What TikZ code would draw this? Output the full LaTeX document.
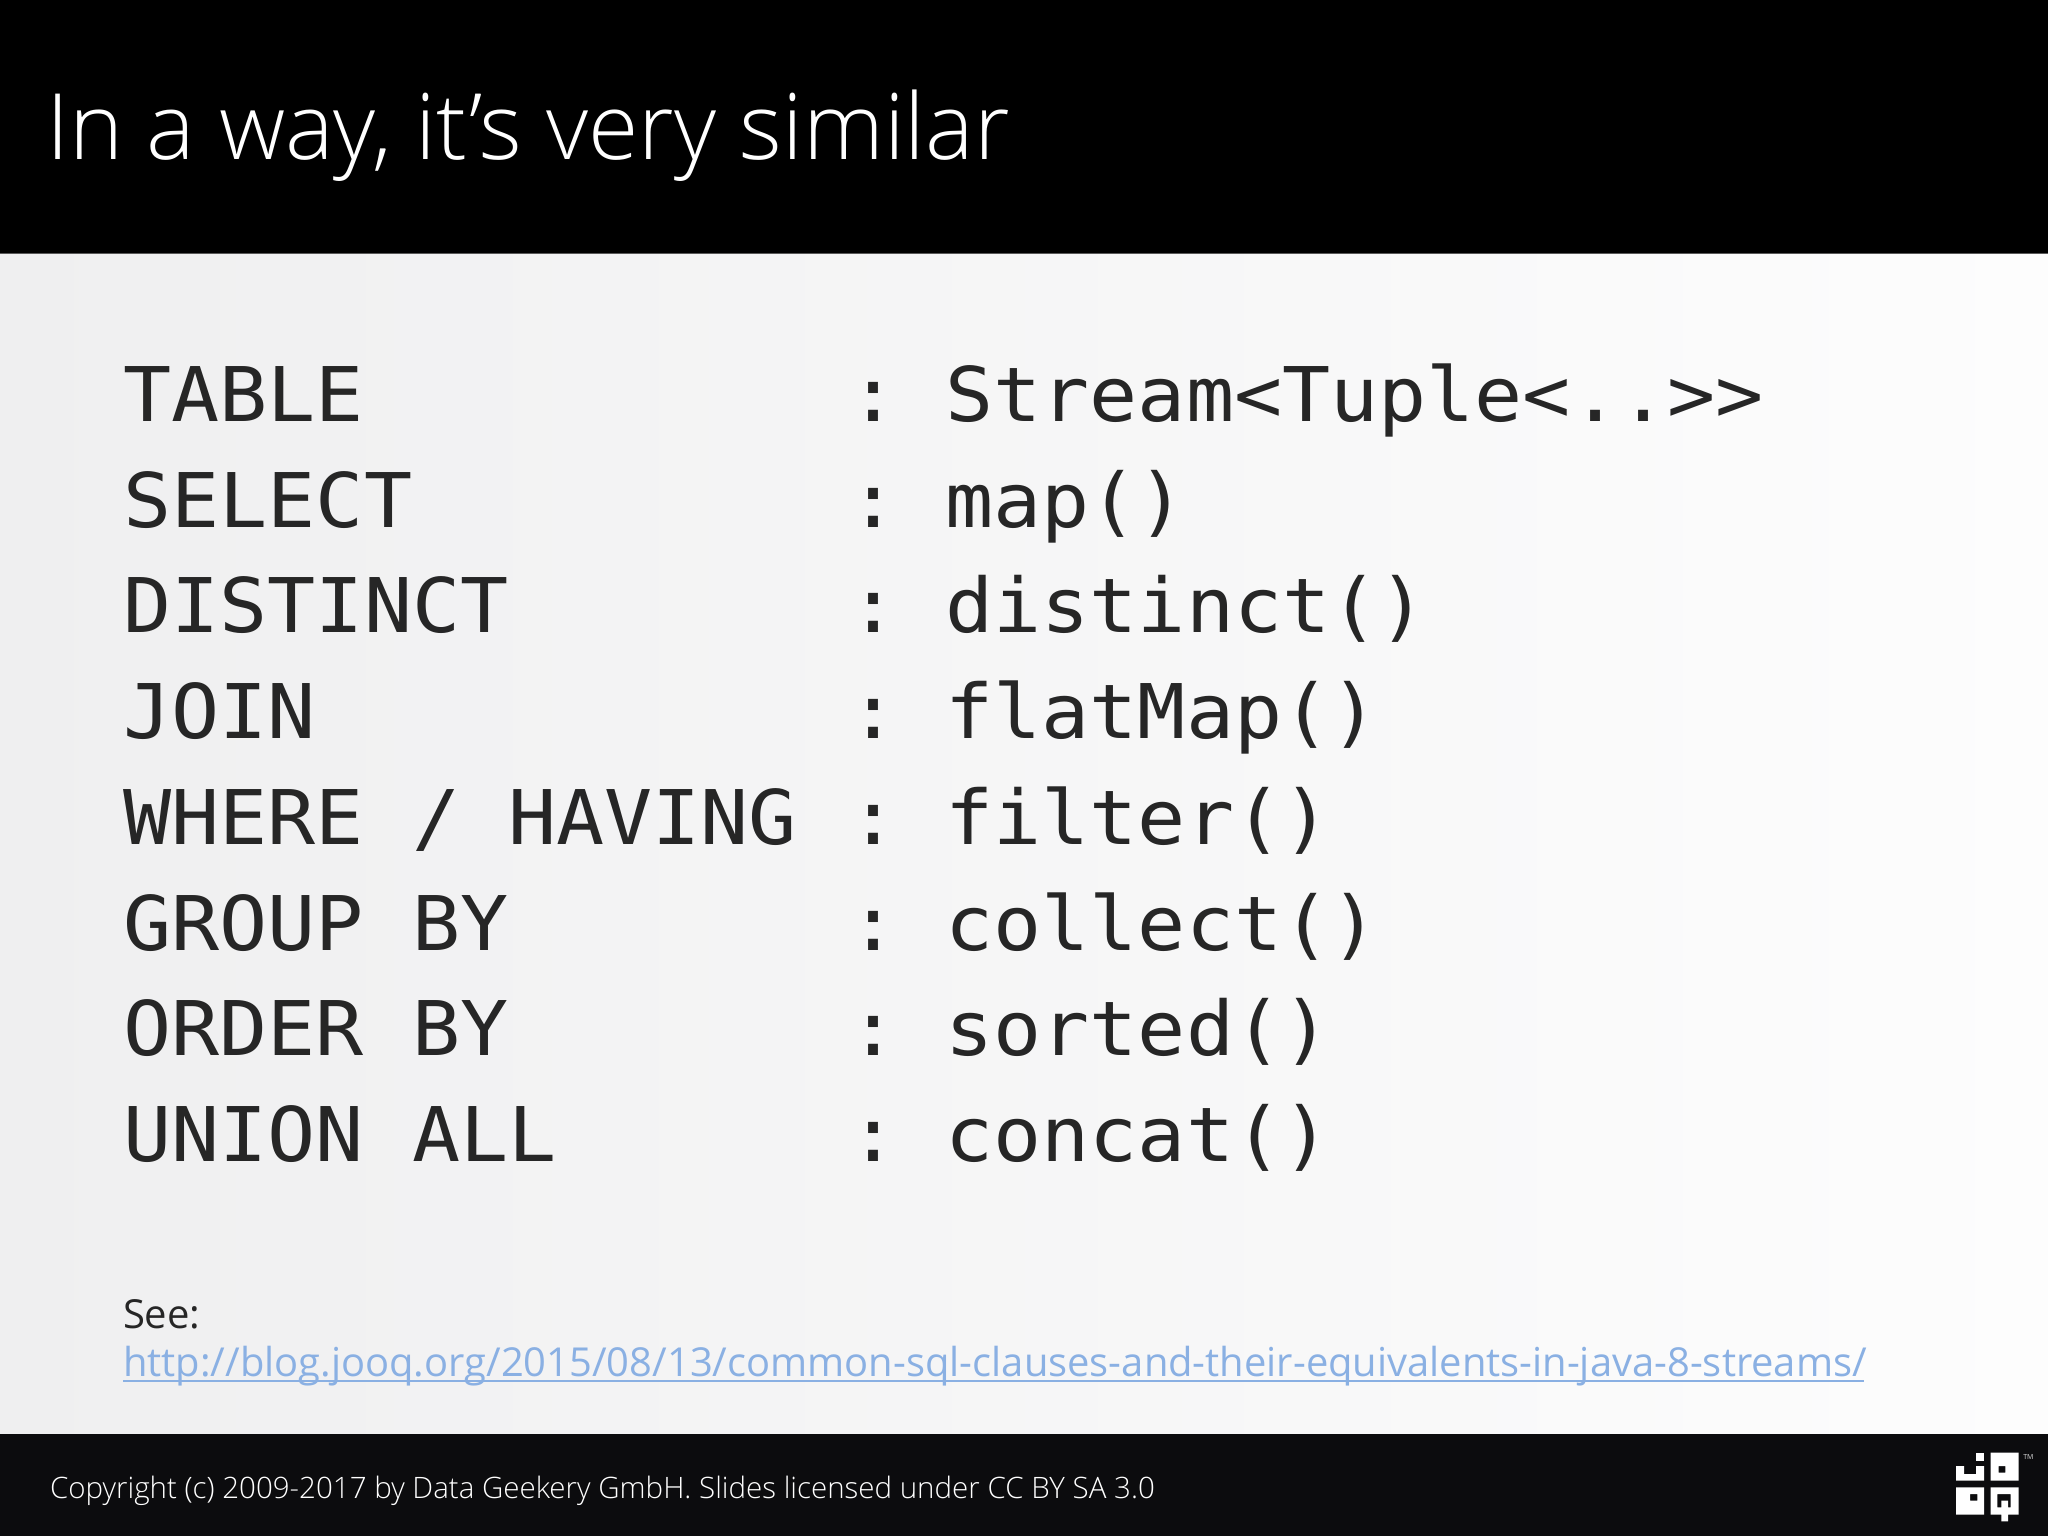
\documentclass[tikz,border=0pt]{standalone}
\usepackage{fontspec}
\setmainfont{Open Sans}
\newfontfamily\titlefont{Open Sans Light}
\newfontfamily\codefont[FakeStretch=1.06]{DejaVu Sans Mono}
\newfontfamily\seefont{Open Sans}
\definecolor{codeink}{HTML}{262626}
\definecolor{linkblue}{HTML}{8AB0E3}
\definecolor{barfoot}{HTML}{0C0C0E}
\definecolor{bandl}{HTML}{EFEFF0}
\definecolor{bandr}{HTML}{FDFDFD}
\tikzset{
  txt/.style={anchor=base west,inner sep=0pt,outer sep=0pt},
  codeline/.style={txt,text=codeink,font=\codefont\fontsize{37.7pt}{40pt}\selectfont},
  logopart/.style={fill=white,draw=none,even odd rule}
}
\newcommand{\coderow}[4]{%
  \node[codeline] (l#1) at (123.5,#2) {#3};
  \node[codeline] (c#1) at (849,#2) {:};
  \node[codeline] (r#1) at (945.5,#2) {#4};
}
\begin{document}
\begin{tikzpicture}[x=0.5pt,y=-0.5pt]
\useasboundingbox (0,0) rectangle (2048,1536);
\fill[black] (0,0) rectangle (2048,253);
\shade[left color=bandl,right color=bandr,shading angle=90] (0,253) rectangle (2048,1434);
\fill[black!65] (0,253) rectangle (2048,254);
\fill[barfoot] (0,1434) rectangle (2048,1536);
\node[txt,text=white,font=\titlefont\fontsize{45.8pt}{50pt}\selectfont] (title) at (46,159) {In a way, it’s very similar};
\coderow{1}{421.5}{TABLE}{Stream<Tuple<..>>}
\coderow{2}{527.2}{SELECT}{map()}
\coderow{3}{632.9}{DISTINCT}{distinct()}
\coderow{4}{738.6}{JOIN}{flatMap()}
\coderow{5}{844.3}{WHERE / HAVING}{filter()}
\coderow{6}{950}{GROUP BY}{collect()}
\coderow{7}{1055.7}{ORDER BY}{sorted()}
\coderow{8}{1161.4}{UNION ALL}{concat()}
\node[txt,text=codeink,font=\seefont\fontsize{20pt}{22pt}\selectfont] (see) at (123,1328) {See:};
\node[txt,text=linkblue,font=\seefont\fontsize{19.95pt}{22pt}\selectfont] (link) at (123,1376) {http://blog.jooq.org/2015/08/13/common-sql-clauses-and-their-equivalents-in-java-8-streams/};
\fill[linkblue] (123,1379.5) rectangle (1864,1382);
\node[txt,text=white,font=\titlefont\fontsize{14.75pt}{18pt}\selectfont] (copy) at (50,1498) {Copyright (c) 2009-2017 by Data Geekery GmbH. Slides licensed under CC BY SA 3.0};
\begin{scope}[shift={(1900,1430)},x=0.1667pt,y=-0.1667pt]
\fill[logopart] (228,68) rectangle (252,92);
\fill[logopart] (168,108) -- (192,108) -- (192,132) -- (228,132) -- (228,108) -- (252,108) -- (252,152) -- (168,152) -- cycle;
\fill[logopart] (272,68) rectangle (356,152) (296,108) rectangle (316,128);
\fill[logopart] (168,172) rectangle (252,254) (210,192) rectangle (232,212);
\fill[logopart] (272,172) -- (356,172) -- (356,254) -- (324,254) -- (324,274) -- (304,274) -- (304,254) -- (272,254) -- cycle
  (292,192) -- (332,192) -- (332,232) -- (324,232) -- (324,212) -- (304,212) -- (304,232) -- (292,232) -- cycle;
\node[txt,anchor=center,text=black!15,font=\seefont\fontsize{3.5pt}{4pt}\selectfont] (tm) at (385,80) {TM};
\end{scope}
\end{tikzpicture}
\end{document}
